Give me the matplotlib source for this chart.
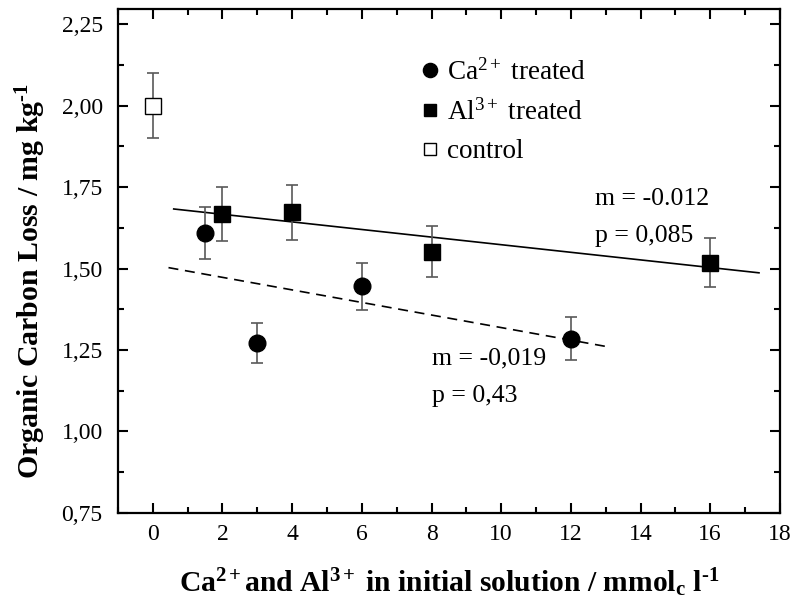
import numpy as np
import matplotlib
matplotlib.use("Agg")
import matplotlib.pyplot as plt
from matplotlib.ticker import MultipleLocator, FuncFormatter

plt.rcParams['font.family'] = 'Liberation Serif'
plt.rcParams['mathtext.fontset'] = 'custom'
plt.rcParams['mathtext.rm'] = 'Liberation Serif'
plt.rcParams['mathtext.it'] = 'Liberation Serif:italic'
plt.rcParams['mathtext.bf'] = 'Liberation Serif:bold'
plt.rcParams['mathtext.default'] = 'regular'

# Ca2+ treated
ca_x = [1.5, 3, 6, 12]
ca_y = [1.61, 1.272, 1.445, 1.285]
ca_err = [0.08, 0.062, 0.072, 0.065]

# Al3+ treated
al_x = [2, 4, 8, 16]
al_y = [1.667, 1.672, 1.552, 1.518]
al_err = [0.083, 0.083, 0.077, 0.075]

# control
ctl_x = [0]
ctl_y = [2.0]
ctl_err = [0.1]

# extent of the fitted lines
al_fit_range = [0.6, 17.4]
ca_fit_range = [0.45, 13.1]

fig = plt.figure(figsize=(7.95, 6.12), dpi=100)
ax = fig.add_axes([0.1484, 0.162, 0.8326, 0.823])

ecol = '0.35'
ax.errorbar(ca_x, ca_y, yerr=ca_err, fmt='none', ecolor=ecol, elinewidth=1.2, capsize=4, capthick=1.2, zorder=2)
ax.errorbar(al_x, al_y, yerr=al_err, fmt='none', ecolor=ecol, elinewidth=1.2, capsize=4, capthick=1.2, zorder=2)
ax.errorbar(ctl_x, ctl_y, yerr=ctl_err, fmt='none', ecolor=ecol, elinewidth=1.2, capsize=4, capthick=1.2, zorder=2)

h_ca, = ax.plot(ca_x, ca_y, 'o', color='black', ms=12, ls='none', zorder=3)
h_al, = ax.plot(al_x, al_y, 's', color='black', ms=11, ls='none', zorder=3)
h_ctl, = ax.plot(ctl_x, ctl_y, 's', mfc='white', mec='black', mew=1.0, ms=11, ls='none', zorder=3)

# linear fits
k_al, b_al = np.polyfit(al_x, al_y, 1)
k_ca, b_ca = np.polyfit(ca_x, ca_y, 1)
xa = np.array(al_fit_range)
xc = np.array(ca_fit_range)
ax.plot(xa, k_al * xa + b_al, color='black', lw=1.2, zorder=1)
ax.plot(xc, k_ca * xc + b_ca, color='black', lw=1.2, ls=(0, (6, 4)), zorder=1)

ax.text(12.7, 1.696, 'm = -0.012', fontsize=18.5)
ax.text(12.7, 1.581, 'p = 0,085', fontsize=18.5)
ax.text(8.02, 1.206, 'm = -0,019', fontsize=18.5)
ax.text(8.02, 1.091, 'p = 0,43', fontsize=18.5)

ax.set_xlim(-1, 18)
ax.set_ylim(0.75, 2.296)
ax.xaxis.set_minor_locator(MultipleLocator(1))
ax.yaxis.set_minor_locator(MultipleLocator(0.125))
ax.yaxis.set_major_formatter(FuncFormatter(lambda v, p: ('%.2f' % v).replace('.', ',')))
ax.set_xticks(np.arange(0, 19, 2))
ax.set_yticks(np.arange(0.75, 2.26, 0.25))

ax.tick_params(which='both', direction='in', top=True, right=True, width=1.5, labelsize=17)
ax.tick_params(which='major', length=7)
ax.tick_params(which='minor', length=4)
ax.tick_params(axis='x', pad=8)
ax.tick_params(axis='y', pad=11)
for s in ax.spines.values():
    s.set_linewidth(1.6)

ax.set_xlabel(r'Ca$^{\mathbf{2+}}$and Al$^{\mathbf{3+}}$ in initial solution / mmol$_{\mathbf{c}}$ l$^{\mathbf{\text{-}1}}$',
              fontsize=21.3, fontweight='bold', labelpad=15)
ax.set_ylabel(r'Organic Carbon Loss / mg kg$^{\mathbf{\text{-}1}}$', fontsize=21.5, fontweight='bold')
ax.yaxis.set_label_coords(-0.106, 0.46)

ax.legend([h_ca, h_al, h_ctl],
          [r'Ca$^{2+}$ treated', r'Al$^{3+}$ treated', 'control'],
          loc='upper left', bbox_to_anchor=(0.442, 0.922), frameon=False,
          fontsize=19.5, handlelength=0.6, handletextpad=0.35, labelspacing=0.5,
          markerscale=0.85, borderaxespad=0)

fig.savefig('out.png', dpi=100)
